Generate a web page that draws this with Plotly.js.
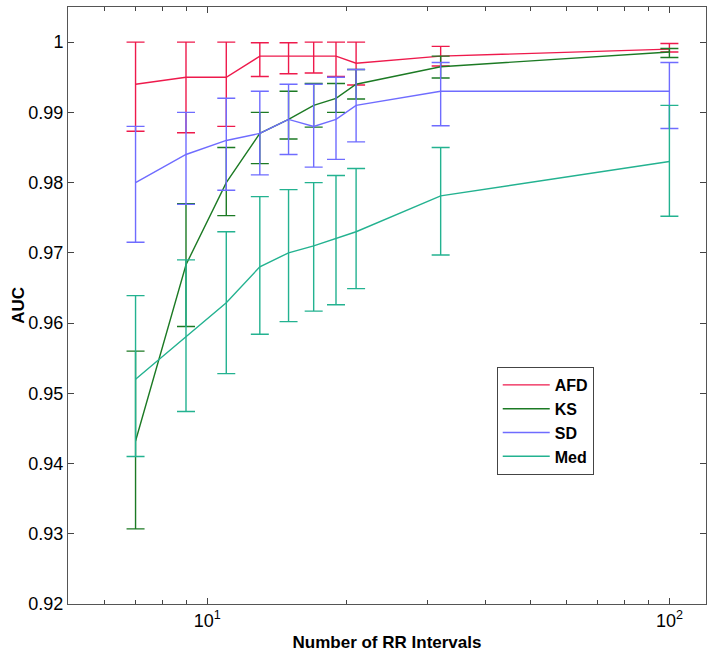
<!DOCTYPE html>
<html>
<head>
<meta charset="utf-8">
<script src="https://cdn.plot.ly/plotly-3.0.1.min.js"></script>
<style>html,body{margin:0;padding:0;background:#fff;}#chart{width:714px;height:658px;}</style>
</head>
<body>
<div id="chart"></div>
<script>
// Number of RR intervals
const rrIntervals = [7, 9, 11, 13, 15, 17, 19, 21, 32, 100];

// AFD
const afdMean  = [0.9940, 0.9950, 0.9950, 0.9980, 0.9980, 0.9980, 0.9980, 0.9970, 0.9980, 0.9990];
const afdUpper = [1.0000, 1.0000, 1.0000, 0.9999, 0.9999, 1.0000, 1.0000, 1.0000, 0.9994, 0.9998];
const afdLower = [0.9873, 0.9871, 0.9880, 0.9951, 0.9955, 0.9956, 0.9951, 0.9939, 0.9966, 0.9986];

// KS
const ksMean  = [0.9432, 0.9683, 0.9800, 0.9870, 0.9890, 0.9910, 0.9920, 0.9940, 0.9965, 0.9986];
const ksUpper = [0.9560, 0.9770, 0.9850, 0.9900, 0.9930, 0.9941, 0.9941, 0.9961, 0.9980, 0.9991];
const ksLower = [0.9307, 0.9595, 0.9753, 0.9827, 0.9862, 0.9879, 0.9900, 0.9919, 0.9949, 0.9978];

// SD
const sdMean  = [0.9800, 0.9840, 0.9860, 0.9870, 0.9890, 0.9880, 0.9890, 0.9910, 0.9930, 0.9930];
const sdUpper = [0.9880, 0.9900, 0.9920, 0.9930, 0.9940, 0.9940, 0.9950, 0.9961, 0.9971, 0.9971];
const sdLower = [0.9715, 0.9769, 0.9789, 0.9811, 0.9840, 0.9822, 0.9833, 0.9858, 0.9881, 0.9877];

// Med
const medMean  = [0.9520, 0.9581, 0.9629, 0.9680, 0.9700, 0.9710, 0.9720, 0.9730, 0.9781, 0.9830];
const medUpper = [0.9639, 0.9690, 0.9730, 0.9780, 0.9790, 0.9800, 0.9810, 0.9820, 0.9850, 0.9910];
const medLower = [0.9410, 0.9474, 0.9528, 0.9584, 0.9602, 0.9617, 0.9626, 0.9649, 0.9697, 0.9752];

const seriesNames = ['AFD', 'KS', 'SD', 'Med'];
const seriesColors = ['#ee1a4c', '#1c7a24', '#6f6cff', '#23b290'];

const yTickVals = [0.92, 0.93, 0.94, 0.95, 0.96, 0.97, 0.98, 0.99, 1.00];
const yTickText = ['0.92', '0.93', '0.94', '0.95', '0.96', '0.97', '0.98', '0.99', '1'];
const xTickVals = [10, 100];
const xTickText = ['10<sup>1</sup>', '10<sup>2</sup>'];
const xMinorVals = [6, 7, 8, 9, 20, 30, 40, 50, 60, 70, 80, 90];

const means = [afdMean, ksMean, sdMean, medMean];
const uppers = [afdUpper, ksUpper, sdUpper, medUpper];
const lowers = [afdLower, ksLower, sdLower, medLower];

const traces = seriesNames.map((name, i) => ({
  type: 'scatter',
  mode: 'lines',
  name: name,
  x: rrIntervals,
  y: means[i],
  line: {color: seriesColors[i], width: 1.4},
  error_y: {
    type: 'data',
    symmetric: false,
    array: uppers[i].map((u, k) => u - means[i][k]),
    arrayminus: lowers[i].map((l, k) => means[i][k] - l),
    color: seriesColors[i],
    thickness: 1.4,
    width: 9
  }
}));

const font = 'Liberation Sans, Arial, Helvetica, sans-serif';

const layout = {
  width: 714,
  height: 658,
  margin: {l: 68, r: 8, t: 7, b: 54},
  paper_bgcolor: '#ffffff',
  plot_bgcolor: '#ffffff',
  showlegend: true,
  legend: {
    x: 0.672, y: 0.397, xanchor: 'left', yanchor: 'top',
    bgcolor: '#ffffff', bordercolor: '#444', borderwidth: 1,
    font: {family: font, size: 16, color: '#000', weight: 'bold'},
    itemwidth: 47,
    tracegroupgap: 0
  },
  xaxis: {
    type: 'log',
    range: [Math.log10(5), Math.log10(120)],
    tickmode: 'array',
    tickvals: xTickVals,
    ticktext: xTickText,
    ticks: 'inside',
    ticklen: 6,
    tickcolor: '#444',
    minor: {tickvals: xMinorVals, ticks: 'inside', ticklen: 4, tickcolor: '#444', showgrid: false},
    showline: true,
    linecolor: '#555',
    linewidth: 1,
    mirror: 'ticks',
    showgrid: false,
    zeroline: false,
    tickfont: {family: font, size: 18, color: '#000'},
    title: {text: 'Number of RR Intervals', font: {family: font, size: 17, color: '#000', weight: 'bold'}, standoff: 6}
  },
  yaxis: {
    range: [0.92, 1.005],
    tickmode: 'array',
    tickvals: yTickVals,
    ticktext: yTickText,
    ticks: 'inside',
    ticklen: 6,
    tickcolor: '#444',
    showline: true,
    linecolor: '#555',
    linewidth: 1,
    mirror: 'ticks',
    showgrid: false,
    zeroline: false,
    tickfont: {family: font, size: 18, color: '#000'}
  },
  annotations: [{
    text: 'AUC',
    textangle: -90,
    xref: 'paper', yref: 'paper',
    x: -0.078, y: 0.5,
    xanchor: 'center', yanchor: 'middle',
    showarrow: false,
    font: {family: font, size: 17, color: '#000', weight: 'bold'}
  }]
};

Plotly.newPlot('chart', traces, layout, {displayModeBar: false, staticPlot: true});
</script>
</body>
</html>
